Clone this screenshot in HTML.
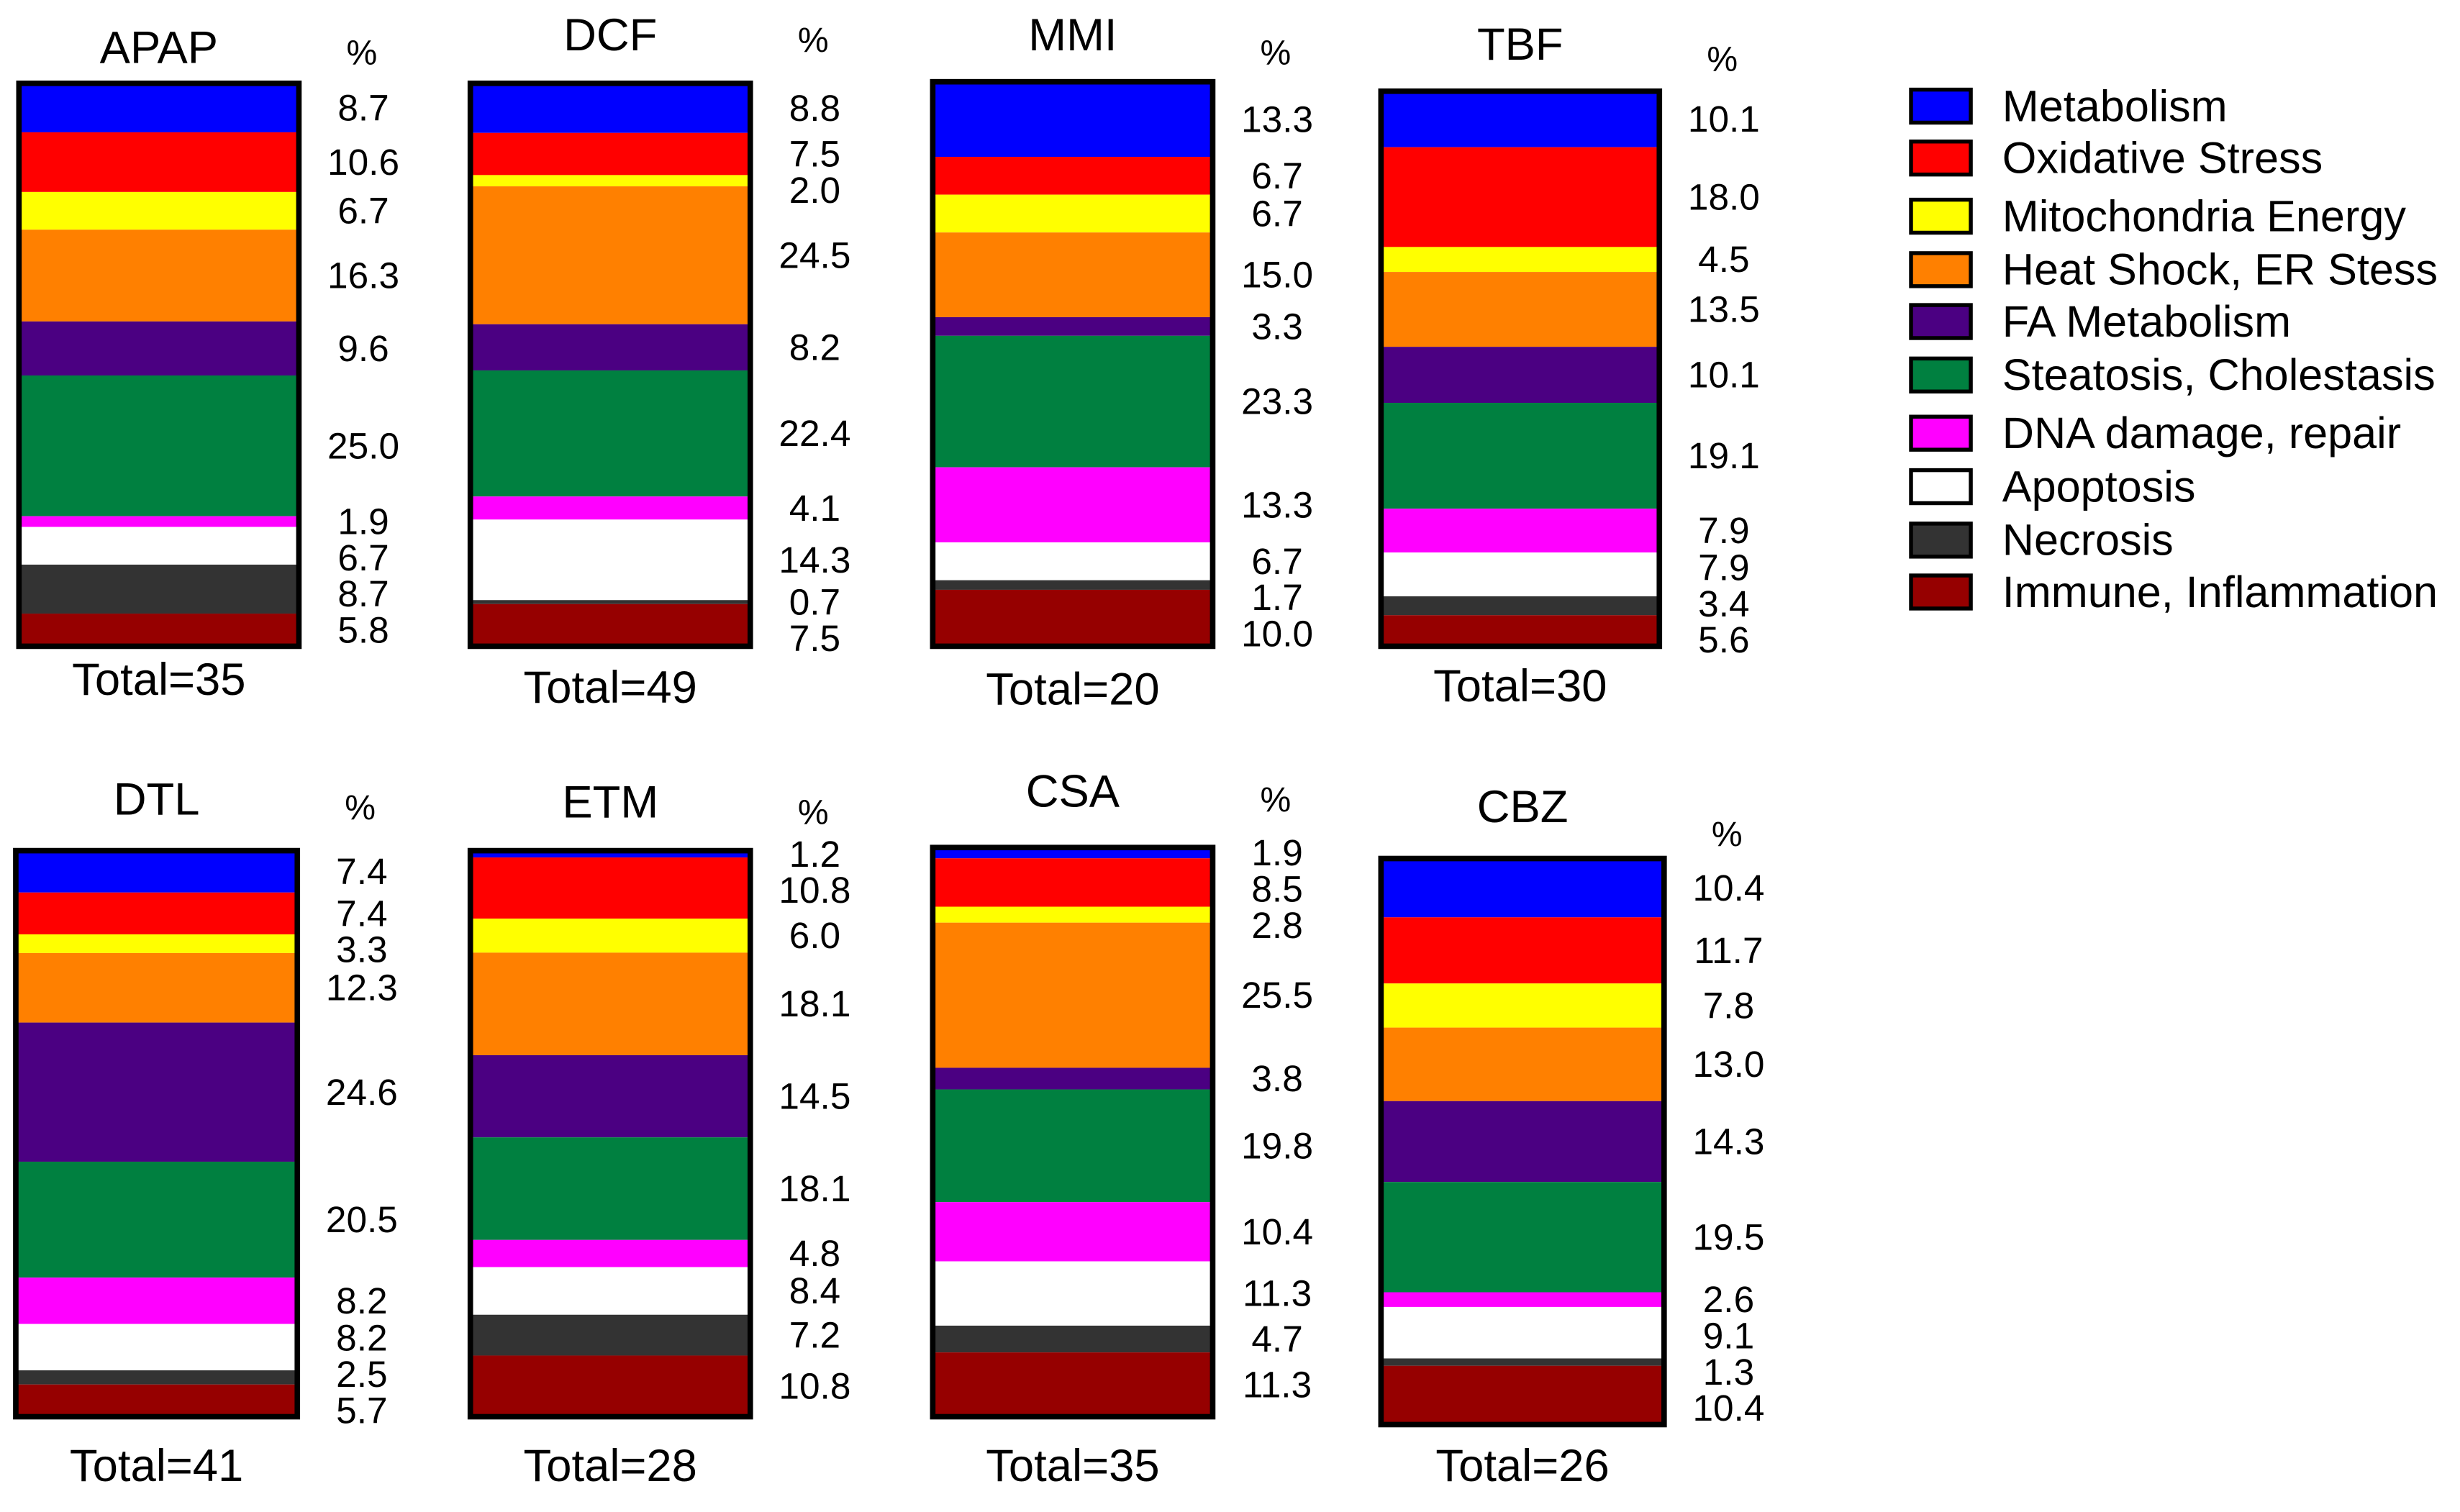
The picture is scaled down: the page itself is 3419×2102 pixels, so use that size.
<!DOCTYPE html>
<html><head><meta charset="utf-8"><style>
html,body{margin:0;padding:0;background:#fff;}
svg{display:block;font-family:"Liberation Sans",Arial,sans-serif;}
</style></head><body>
<svg id="chart" width="3419" height="2102" viewBox="0 0 1564 961.6" xmlns="http://www.w3.org/2000/svg">
<rect x="0" y="0" width="1564" height="961.6" fill="#fff"/>
</svg>
<script>
const categories = ["Metabolism","Oxidative Stress","Mitochondria Energy","Heat Shock, ER Stess","FA Metabolism","Steatosis, Cholestasis","DNA damage, repair","Apoptosis","Necrosis","Immune, Inflammation"];
const drugs = ["APAP","DCF","MMI","TBF","DTL","ETM","CSA","CBZ"];
const totals = [35,49,20,30,41,28,35,26];
const valsAPAP = [8.7,10.6,6.7,16.3,9.6,25.0,1.9,6.7,8.7,5.8];
const valsDCF = [8.8,7.5,2.0,24.5,8.2,22.4,4.1,14.3,0.7,7.5];
const valsMMI = [13.3,6.7,6.7,15.0,3.3,23.3,13.3,6.7,1.7,10.0];
const valsTBF = [10.1,18.0,4.5,13.5,10.1,19.1,7.9,7.9,3.4,5.6];
const valsDTL = [7.4,7.4,3.3,12.3,24.6,20.5,8.2,8.2,2.5,5.7];
const valsETM = [1.2,10.8,6.0,18.1,14.5,18.1,4.8,8.4,7.2,10.8];
const valsCSA = [1.9,8.5,2.8,25.5,3.8,19.8,10.4,11.3,4.7,11.3];
const valsCBZ = [10.4,11.7,7.8,13.0,14.3,19.5,2.6,9.1,1.3,10.4];
const series = [valsAPAP,valsDCF,valsMMI,valsTBF,valsDTL,valsETM,valsCSA,valsCBZ];

const colors = ["#0000ff","#ff0000","#ffff00","#ff8000","#4b0082","#008040","#ff00ff","#ffffff","#333333","#960000"];
const layout = [
 [12,190,53,411,30,33,432],[299,477,53,411,22,25,437],[593,771,52,411,22,33,438],[878,1055,58,411,28,37,436],
 [10,189,541,901,508,513,932],[299,477,541,901,510,516,932],[593,771,539,901,503,508,932],[878,1058,546,906,513,530,932]
];
const NS="http://www.w3.org/2000/svg";
const svg=document.getElementById('chart');
function mk(tag,attrs,parent){const e=document.createElementNS(NS,tag);for(const k in attrs)e.setAttribute(k,attrs[k]);(parent||svg).appendChild(e);return e;}

series.forEach((vals,i)=>{
  const [x0,x1,y0,y1,ty,py,toty]=layout[i];
  const g=mk('g',{});
  
  
  const sum=vals.reduce((a,b)=>a+b,0);
  const yScale=v=>y0+(y1-y0)*v/sum;
  let cum=0; const mids=[];
  vals.forEach((v,j)=>{
    const ya=yScale(cum), yb=yScale(cum+v);
    const r=mk('rect',{x:x0,y:ya,width:x1-x0,height:Math.max(0,yb-ya),fill:colors[j]},g);
    
    
    mids.push((ya+yb)/2); cum+=v;
  });
  const b=mk('rect',{x:x0,y:y0,width:x1-x0,height:y1-y0,fill:'none',stroke:'#000','stroke-width':3.5},g);
  
  
  const gap=23; const pos=mids.slice();
  for(let k=1;k<pos.length;k++) if(pos[k]<pos[k-1]+gap) pos[k]=pos[k-1]+gap;
  const maxY=y1-4;
  if(pos[pos.length-1]>maxY){pos[pos.length-1]=maxY;for(let k=pos.length-2;k>=0;k--) if(pos[k]>pos[k+1]-gap) pos[k]=pos[k+1]-gap;}
  vals.forEach((v,j)=>{
    const t=mk('text',{x:x1+41,y:pos[j]+8,'text-anchor':'middle','font-size':23.5,fill:'#000'},g);
    t.textContent=v.toFixed(1);
    
    
  });
  const tt=mk('text',{x:(x0+x1)/2,y:ty+10,'text-anchor':'middle','font-size':29,fill:'#000'},g);
  tt.textContent=drugs[i];
  
  
  const pc=mk('text',{x:x1+40,y:py+8,'text-anchor':'middle','font-size':22,fill:'#000'},g);
  pc.textContent='%';
  
  
  const to=mk('text',{x:(x0+x1)/2,y:toty+10,'text-anchor':'middle','font-size':29,fill:'#000'},g);
  to.textContent='Total='+totals[i];
  
  
});

const legendYs=[67,100,137,171,204,238,275,309,343,376];
const lg=mk('g',{});


categories.forEach((c,j)=>{
  const r=mk('rect',{x:1215,y:legendYs[j]-10,width:38,height:21,fill:colors[j],stroke:'#000','stroke-width':2.5},lg);
  
  
  const t=mk('text',{x:1273,y:legendYs[j]+10,'font-size':28,fill:'#000'},lg);
  t.textContent=c;
  
  
});
</script>
</body></html>
